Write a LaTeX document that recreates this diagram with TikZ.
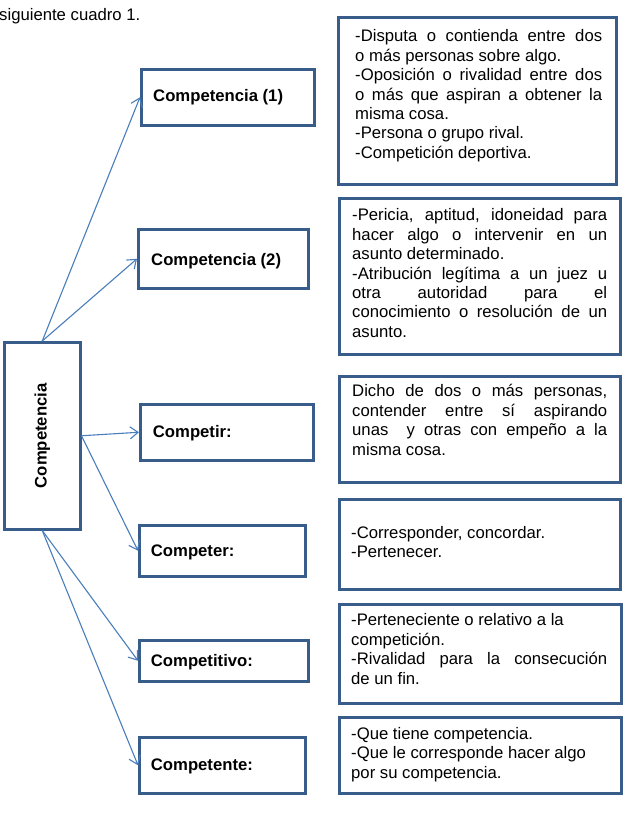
\documentclass[tikz,border=0pt]{standalone}
\usepackage{fontspec}
\setmainfont{Liberation Sans}
\usepackage{graphicx}
\usetikzlibrary{arrows.meta}
\definecolor{boxblue}{HTML}{385D8A}
\definecolor{lineblue}{HTML}{4A7EBB}
\hbadness=10000
\begin{document}
\begin{tikzpicture}[x=1pt,y=-1pt,
  frame/.style={draw=boxblue, line width=2.5pt, fill=white, inner sep=0pt, anchor=north west},
  conn/.style={draw=lineblue, line width=1.1pt, -{Straight Barb[length=8pt,width=12pt]}},
  lbl/.style={anchor=base west, inner sep=0pt, font=\fontsize{16.7}{19.4}\selectfont\bfseries},
  desc/.style={anchor=north west, inner sep=0pt, align=justify, font=\fontsize{16.7}{19.4}\selectfont},
]
\useasboundingbox (0,0) rectangle (625,817);

\node[anchor=base west, inner sep=0pt, font=\fontsize{16.7}{19.4}\selectfont] (intro) at (-1,20) {siguiente cuadro 1.};

% left boxes
\node[frame, minimum width=76pt, minimum height=187pt, font=\fontsize{16.7}{19.4}\selectfont\bfseries] (main) at (3,341) {\rotatebox{90}{Competencia}};
\node[frame, minimum width=173pt, minimum height=56pt] (c1) at (140,68) {};
\node[frame, minimum width=170pt, minimum height=59pt] (c2) at (137,228) {};
\node[frame, minimum width=173pt, minimum height=56pt] (cp) at (139,403) {};
\node[frame, minimum width=166pt, minimum height=51pt] (cr) at (138,524) {};
\node[frame, minimum width=169pt, minimum height=41pt] (cv) at (138,639) {};
\node[frame, minimum width=166pt, minimum height=56pt] (ct) at (138,736) {};

\node[lbl] (l1) at (153,101.7) {Competencia (1)};
\node[lbl] (l2) at (151,265) {Competencia (2)};
\node[lbl] (lp) at (152.7,437) {Competir:};
\node[lbl] (lr) at (150.7,556) {Competer:};
\node[lbl] (lv) at (150.7,666) {Competitivo:};
\node[lbl] (lt) at (150.7,770) {Competente:};

% right boxes
\node[frame, minimum width=278pt, minimum height=167pt] (r1) at (337,16) {};
\node[frame, minimum width=281pt, minimum height=156pt] (r2) at (338,197) {};
\node[frame, minimum width=281pt, minimum height=106pt] (r3) at (338,375) {};
\node[frame, minimum width=281pt, minimum height=90pt] (r4) at (338,498) {};
\node[frame, minimum width=282pt, minimum height=99pt] (r5) at (338,603) {};
\node[frame, minimum width=282pt, minimum height=76pt] (r6) at (338,716) {};

\node[desc, text width=247pt] (t1) at (355,27.7) {\rule{0pt}{14pt}-Disputa o contienda entre dos\linebreak
o más personas sobre algo.\\
-Oposición o rivalidad entre dos\linebreak
o más que aspiran a obtener la\linebreak
misma cosa.\\
-Persona o grupo rival.\\
-Competición deportiva.};

\node[desc, text width=255pt] (t2) at (352,206.7) {\rule{0pt}{14pt}-Pericia, aptitud, idoneidad para\linebreak
hacer algo o intervenir en un\linebreak
asunto determinado.\\
-Atribución legítima a un juez u\linebreak
otra autoridad para el\linebreak
conocimiento o resolución de un\linebreak
asunto.};

\node[desc, text width=255pt] (t3) at (352,382.7) {\rule{0pt}{14pt}Dicho de dos o más personas,\linebreak
contender entre sí aspirando\linebreak
unas\ \ y otras con empeño a la\linebreak
misma cosa.};

\node[desc, text width=255pt] (t4) at (351,524.3) {\rule{0pt}{14pt}-Corresponder, concordar.\\
-Pertenecer.};

\node[desc, text width=256pt] (t5) at (351,611.7) {\rule{0pt}{14pt}-Perteneciente o relativo a la\\
competición.\\
-Rivalidad para la consecución\linebreak
de un fin.};

\node[desc, text width=256pt] (t6) at (351,725.3) {\rule{0pt}{14pt}-Que tiene competencia.\\
-Que le corresponde hacer algo\\
por su competencia.};

% connectors
\draw[conn] (main.north) -- (c1.west);
\draw[conn] (main.north) -- (c2.west);
\draw[conn] (main.east) -- (cp.west);
\draw[conn] (main.east) -- (cr.west);
\draw[conn] (main.south) -- (cv.west);
\draw[conn] (main.south) -- (ct.west);
\end{tikzpicture}
\end{document}
